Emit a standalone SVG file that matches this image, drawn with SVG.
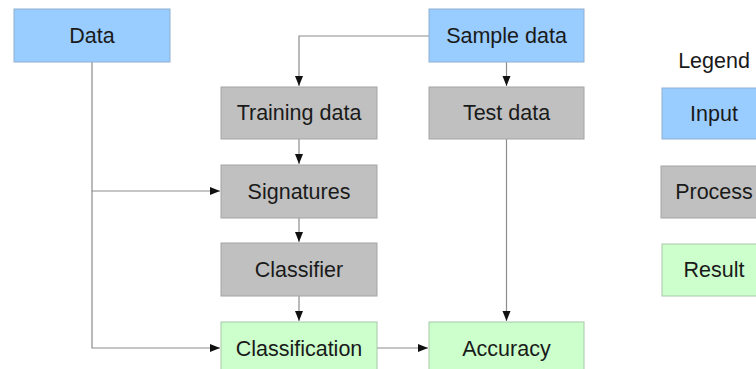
<svg xmlns="http://www.w3.org/2000/svg" width="756" height="369" viewBox="0 0 756 369">
  <style>
    .input   { fill: #99ccff; stroke: #8fb0d0; stroke-width: 1; }
    .process { fill: #c0c0c0; stroke: #a4a4a4; stroke-width: 1; }
    .result  { fill: #ccffcc; stroke: #a8c8a8; stroke-width: 1; }
    text { font-family: "Liberation Sans", Arial, sans-serif; font-size: 21.5px; fill: #1a1a1a; text-anchor: middle; }
    .wire { fill: none; stroke: #8c8c8c; stroke-width: 1.2; }
  </style>
  <defs>
    <marker id="arrow" viewBox="0 0 10 10" refX="10" refY="5" markerWidth="10" markerHeight="10" markerUnits="userSpaceOnUse" orient="auto">
      <path d="M0,1 L10,5 L0,9 Z" fill="#111111"/>
    </marker>
  </defs>
  <rect width="756" height="369" fill="#ffffff"/>

  <!-- connectors -->
  <g id="connectors">
    <path class="wire" d="M92,62 V191 H220" marker-end="url(#arrow)"/>
    <path class="wire" d="M92,191 V348 H220" marker-end="url(#arrow)"/>
    <path class="wire" d="M429,36 H299 V86" marker-end="url(#arrow)"/>
    <path class="wire" d="M506.5,62 V86" marker-end="url(#arrow)"/>
    <path class="wire" d="M299,139 V164" marker-end="url(#arrow)"/>
    <path class="wire" d="M299,218 V242" marker-end="url(#arrow)"/>
    <path class="wire" d="M299,296 V321" marker-end="url(#arrow)"/>
    <path class="wire" d="M506.5,139 V321" marker-end="url(#arrow)"/>
    <path class="wire" d="M377,348 H428" marker-end="url(#arrow)"/>
  </g>

  <!-- flow nodes -->
  <g id="data"><rect class="input" x="14" y="9" width="156" height="53"/><text x="92" y="43">Data</text></g>
  <g id="sample-data"><rect class="input" x="429" y="9" width="155" height="53"/><text x="506.5" y="43">Sample data</text></g>
  <g id="training-data"><rect class="process" x="221" y="87" width="156" height="52"/><text x="299" y="120">Training data</text></g>
  <g id="test-data"><rect class="process" x="429" y="87" width="155" height="52"/><text x="506.5" y="120">Test data</text></g>
  <g id="signatures"><rect class="process" x="221" y="165" width="156" height="53"/><text x="299" y="199">Signatures</text></g>
  <g id="classifier"><rect class="process" x="221" y="243" width="156" height="53"/><text x="299" y="277">Classifier</text></g>
  <g id="classification"><rect class="result" x="221" y="322" width="156" height="53"/><text x="299" y="356">Classification</text></g>
  <g id="accuracy"><rect class="result" x="429" y="322" width="155" height="53"/><text x="506.5" y="356">Accuracy</text></g>

  <!-- legend -->
  <g id="legend">
    <text x="714" y="68">Legend</text>
    <g id="legend-input"><rect class="input" x="662" y="88" width="104" height="51"/><text x="714" y="121">Input</text></g>
    <g id="legend-process"><rect class="process" x="661" y="166" width="105" height="52"/><text x="714" y="199">Process</text></g>
    <g id="legend-result"><rect class="result" x="662" y="244" width="104" height="52"/><text x="714" y="277">Result</text></g>
  </g>
</svg>
